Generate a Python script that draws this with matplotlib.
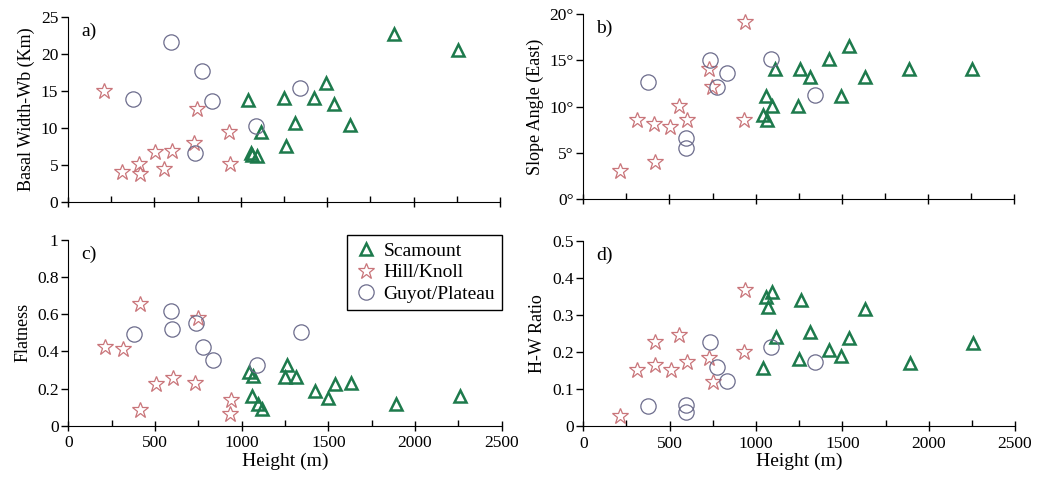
import numpy as np
import matplotlib
matplotlib.use("Agg")
import matplotlib.pyplot as plt
from matplotlib.ticker import MultipleLocator, FuncFormatter

plt.rcParams['font.family'] = ['Liberation Serif', 'DejaVu Serif']

nan = np.nan

# heights (m) per feature class
seamount_h = [1042, 1058, 1067, 1092, 1115, 1248, 1259, 1314, 1425, 1495, 1540, 1632, 1889, 2257]
hill_h = [210, 313, 413, 415, 505, 555, 601, 730, 749, 932, 939]
guyot_h = [376, 594, 596, 734, 777, 832, 1089, 1343]

# a) basal width (km)
seamount_width = [13.8, 6.6, 6.3, 6.2, 9.4, 14.1, 7.5, 10.6, 14.1, 16.0, 13.2, 10.4, 22.7, 20.6]
hill_width = [15.0, 4.0, 5.1, 3.7, 6.7, 4.4, 6.9, 8.0, 12.6, 9.4, 5.1]
guyot_width = [13.9, 21.6, nan, 6.6, 17.7, 13.6, 10.3, 15.4]

# b) slope angle, east flank (deg)
seamount_slope = [9.1, 11.1, 8.6, 10.1, 14.1, 10.1, 14.1, 13.2, 15.1, 11.2, 16.5, 13.2, 14.1, 14.1]
hill_slope = [3.0, 8.6, 8.1, 4.0, 7.8, 10.1, 8.6, 14.1, 12.1, 8.6, 19.1]
guyot_slope = [12.7, 6.6, 5.5, 15.0, 12.1, 13.6, 15.1, 11.3]

# c) flatness
seamount_flat = [0.291, 0.162, 0.267, 0.115, 0.090, 0.264, 0.325, 0.264, 0.187, 0.147, 0.224, 0.232, 0.118, 0.160]
hill_flat = [0.422, 0.411, 0.654, 0.084, 0.224, nan, 0.255, 0.228, 0.578, 0.063, 0.138]
guyot_flat = [0.494, 0.619, 0.519, 0.551, 0.422, 0.354, 0.325, 0.504]

# d) height/width ratio
seamount_hw = [0.156, 0.347, 0.322, 0.362, 0.241, 0.180, 0.340, 0.253, 0.205, 0.190, 0.238, 0.316, 0.169, 0.223]
hill_hw = [0.028, 0.151, 0.164, 0.226, 0.151, 0.246, 0.174, 0.184, 0.120, 0.200, 0.367]
guyot_hw = [0.054, 0.057, 0.037, 0.226, 0.158, 0.122, 0.213, 0.174]

green = '#1d7a4c'
pink = '#c9757a'
grey = '#6c6c8c'

fig = plt.figure(figsize=(10.51, 4.86), dpi=100)
axa = fig.add_axes([0.0647, 0.585, 0.411, 0.380])
axb = fig.add_axes([0.555, 0.590, 0.410, 0.381])
axc = fig.add_axes([0.065, 0.124, 0.4124, 0.382])
axd = fig.add_axes([0.555, 0.1235, 0.4108, 0.381])


def draw(ax, sv, hv, gv):
    ax.plot(seamount_h, sv, '^', ls='none', ms=8, mfc='none', mec=green, mew=1.8, label='Scamount')
    ax.plot(hill_h, hv, '*', ls='none', ms=12, mfc='none', mec=pink, mew=0.9, label='Hill/Knoll')
    ax.plot(guyot_h, gv, 'o', ls='none', ms=11, mfc='none', mec=grey, mew=0.9, label='Guyot/Plateau')


def num(v, p):
    v = round(v, 6)
    if v == int(v):
        return '%d' % v
    return '%.1f' % v


def deg(v, p):
    return '%d\u00b0' % round(v)


def style(ax, ymax, ystep, letter, ylab, bottom=False, fmt=num):
    ax.set_xlim(0, 2500)
    ax.set_ylim(0, ymax)
    for s in ['top', 'right']:
        ax.spines[s].set_visible(False)
    ax.xaxis.set_major_locator(MultipleLocator(500))
    ax.xaxis.set_minor_locator(MultipleLocator(250))
    ax.yaxis.set_major_locator(MultipleLocator(ystep))
    ax.tick_params(axis='x', which='major', direction='inout', length=7, width=1.0, labelsize=12.5)
    ax.tick_params(axis='x', which='minor', direction='in', length=4, width=1.0)
    ax.tick_params(axis='y', which='major', direction='out', length=5, width=1.0, labelsize=12.5, pad=2)
    if not bottom:
        ax.tick_params(axis='x', labelbottom=False)
    else:
        ax.set_xlabel('Height (m)', fontsize=14, labelpad=1)
    ax.yaxis.set_major_formatter(FuncFormatter(fmt))
    ax.set_ylabel(ylab, fontsize=13, labelpad=4)
    ax.text(0.03, 0.97, letter, transform=ax.transAxes, fontsize=14, va='top', ha='left')


draw(axa, seamount_width, hill_width, guyot_width)
style(axa, 25, 5, 'a)', 'Basal Width-Wb (Km)')

draw(axb, seamount_slope, hill_slope, guyot_slope)
style(axb, 20, 5, 'b)', 'Slope Angle (East)', fmt=deg)

draw(axc, seamount_flat, hill_flat, guyot_flat)
style(axc, 1, 0.2, 'c)', 'Flatness', bottom=True)

draw(axd, seamount_hw, hill_hw, guyot_hw)
style(axd, 0.5, 0.1, 'd)', 'H-W Ratio', bottom=True)

leg = axc.legend(loc='upper right', bbox_to_anchor=(1.0, 1.025), fontsize=14, frameon=True,
                 fancybox=False, edgecolor='black', framealpha=1, handletextpad=0.3,
                 borderpad=0.35, labelspacing=0.2, handlelength=1.2, borderaxespad=0)
leg.get_frame().set_linewidth(1.0)

fig.savefig('out.png', dpi=100)
